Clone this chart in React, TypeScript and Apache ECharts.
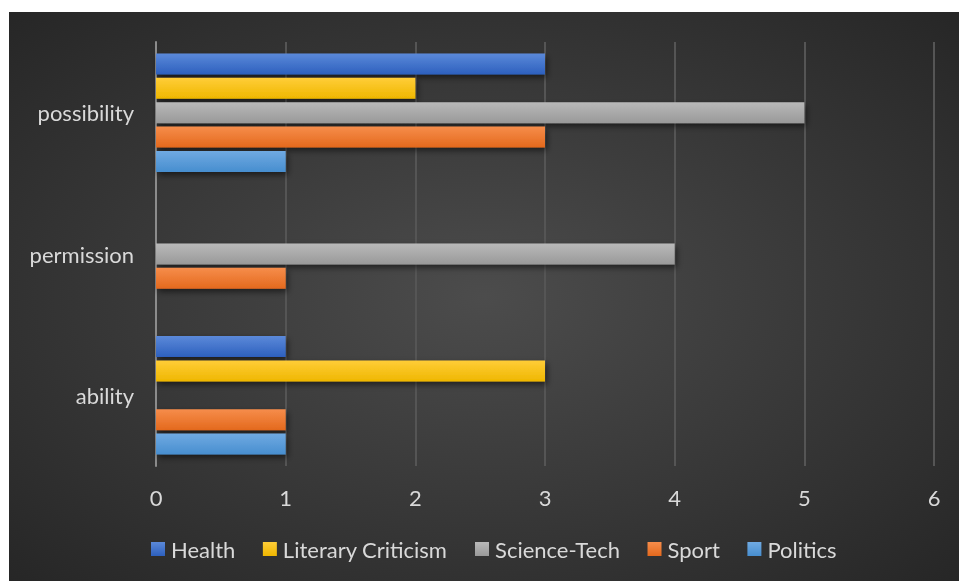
import React, { useEffect, useRef } from "react";
import * as echarts from "echarts";

const categories = ["ability", "permission", "possibility"];
const seriesNames = ["Health", "Literary Criticism", "Science-Tech", "Sport", "Politics"];
const health = [1, 0, 3];
const literary = [3, 0, 2];
const science = [0, 4, 5];
const sport = [1, 1, 3];
const politics = [1, 0, 1];
const xTicks = [0, 1, 2, 3, 4, 5, 6];

const colorsTop = ["#5b89d9", "#ffcd38", "#b9b9b9", "#f68d4b", "#70aae2"];
const colorsBottom = ["#2d60be", "#efb700", "#999999", "#e4691d", "#478ecf"];

export default function App() {
  const ref = useRef<HTMLDivElement>(null);
  useEffect(() => {
    if (!ref.current) return;
    const chart = echarts.init(ref.current, null, { renderer: "svg" });
    const values = [health, literary, science, sport, politics];
    const font = "Lato, 'Open Sans', sans-serif";
    const series = seriesNames.map((name, i) => ({
      name,
      type: "bar",
      data: values[i].map((v) => (v === 0 ? null : v)),
      barWidth: 21,
      barGap: "16%",
      itemStyle: {
        color: new echarts.graphic.LinearGradient(0, 0, 0, 1, [
          { offset: 0, color: colorsTop[i] },
          { offset: 1, color: colorsBottom[i] },
        ]),
        shadowColor: "rgba(0,0,0,0.55)",
        shadowBlur: 6,
        shadowOffsetX: 2,
        shadowOffsetY: 3,
      },
    }));
    chart.setOption({
      animation: false,
      backgroundColor: {
        type: "radial",
        x: 0.5,
        y: 0.5,
        r: 0.75,
        colorStops: [
          { offset: 0, color: "#4c4c4c" },
          { offset: 1, color: "#242424" },
        ],
      },
      grid: { left: 147, right: 25, top: 30, bottom: 115 },
      legend: {
        data: seriesNames,
        left: 142,
        top: 526,
        padding: 0,
        itemWidth: 14,
        itemHeight: 14,
        itemGap: 27.5,
        icon: "rect",
        textStyle: { color: "#d9d9d9", fontSize: 22, fontFamily: font, padding: [0, 0, 0, 1] },
      },
      xAxis: {
        type: "value",
        min: xTicks[0],
        max: xTicks[xTicks.length - 1],
        interval: 1,
        axisLine: { show: false },
        axisTick: { show: false },
        axisLabel: { color: "#d9d9d9", fontSize: 22, fontFamily: font, margin: 20 },
        splitLine: { show: true, lineStyle: { color: "#555555", width: 2 } },
      },
      yAxis: {
        type: "category",
        data: categories,
        axisLine: { show: true, lineStyle: { color: "#8c8c8c", width: 2 } },
        axisTick: { show: false },
        axisLabel: { color: "#d9d9d9", fontSize: 22, fontFamily: font, margin: 22 },
      },
      series,
    });
    return () => chart.dispose();
  }, []);
  return (
    <div
      ref={ref}
      style={{ position: "fixed", left: 9, top: 12, width: 950, height: 569 }}
    />
  );
}
